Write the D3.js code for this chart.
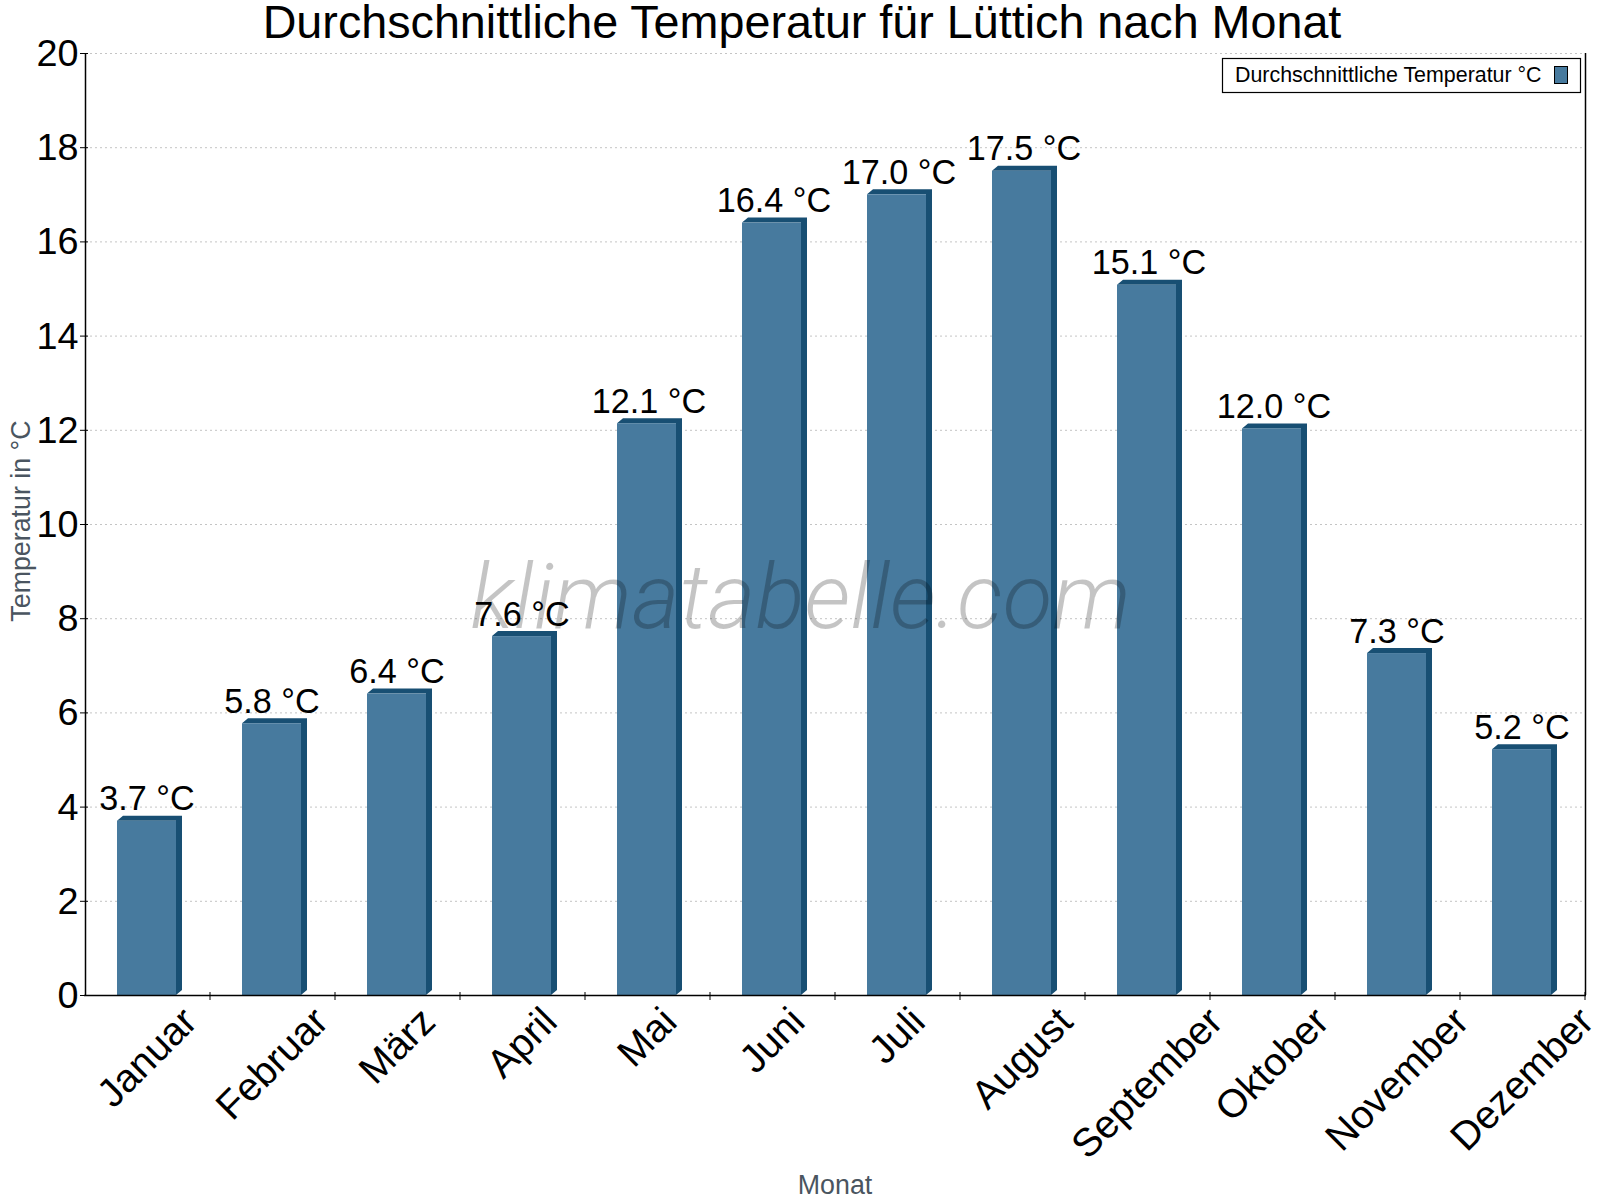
<!DOCTYPE html>
<html>
<head>
<meta charset="utf-8">
<script src="https://cdnjs.cloudflare.com/ajax/libs/d3/7.8.5/d3.min.js"></script>
<style>
    body { margin: 0; background: #fff; }
    text { font-family: "Liberation Sans", Arial, sans-serif; }
</style>
</head>
<body>
<div id="chart"></div>
<script>
var months = ["Januar", "Februar", "März", "April", "Mai", "Juni", "Juli", "August", "September", "Oktober", "November", "Dezember"];
var temps = [3.7, 5.77, 6.4, 7.62, 12.14, 16.4, 17.0, 17.5, 15.08, 12.03, 7.26, 5.22];
var yTicks = [0, 2, 4, 6, 8, 10, 12, 14, 16, 18, 20];

var titleText = "Durchschnittliche Temperatur für Lüttich nach Monat";
var legendText = "Durchschnittliche Temperatur °C";

var left = 85, right = 1585, top_ = 53, bottom = 995;
var depth = 6;

var svg = d3.select("#chart").append("svg")
    .attr("width", 1600)
    .attr("height", 1200);

var x = d3.scaleBand().domain(months).range([left, right]);
var y = d3.scaleLinear().domain([0, 20]).range([bottom, top_]);
var barW = 59;

// grid
svg.selectAll("line.grid")
    .data(yTicks.slice(1))
    .enter()
    .append("line")
    .attr("class", "grid")
    .attr("x1", left)
    .attr("x2", right)
    .attr("y1", function (d) { return y(d) + 0.5; })
    .attr("y2", function (d) { return y(d) + 0.5; })
    .attr("stroke", "#c4c4c4")
    .attr("stroke-dasharray", "2,3");

// bars
var bars = svg.selectAll("g.bar")
    .data(temps)
    .enter()
    .append("g")
    .attr("class", "bar");

bars.append("polygon")
    .attr("fill", "#184f73")
    .attr("points", function (d, i) {
        var x0 = x(months[i]) + 32, x1 = x0 + barW, y0 = y(d);
        return [[x0, y0], [x0 + depth, y0 - depth + 1], [x1 + depth, y0 - depth + 1], [x1 + depth, bottom - depth + 1], [x1, bottom], [x1, y0]].join(" ");
    });

bars.append("rect")
    .attr("fill", "#477a9e")
    .attr("x", function (d, i) { return x(months[i]) + 32; })
    .attr("y", function (d) { return y(d); })
    .attr("width", barW)
    .attr("height", function (d) { return bottom - y(d); });

bars.append("text")
    .attr("x", function (d, i) { return x(months[i]) + (d >= 10 ? 64 : 62); })
    .attr("y", function (d) { return y(d) - 10.5; })
    .attr("text-anchor", "middle")
    .attr("font-size", 34.2)
    .attr("fill", "#000")
    .text(function (d) { return d.toFixed(1) + " °C"; });

// watermark
svg.append("text")
    .attr("x", 800.5)
    .attr("y", 628)
    .attr("text-anchor", "middle")
    .attr("font-size", 91.3)
    .attr("font-style", "italic")
    .attr("font-weight", 300)
    .style("font-family", "Roboto")
    .attr("fill", "#000")
    .attr("fill-opacity", 0.23)
    .text("klimatabelle.com");

// axes
var xAxis = svg.append("g");
xAxis.append("line").attr("x1", left - 1).attr("x2", right + 1).attr("y1", bottom + 0.5).attr("y2", bottom + 0.5).attr("stroke", "#000").attr("stroke-width", 1.5);
xAxis.selectAll("line.tick")
    .data(months)
    .enter()
    .append("line")
    .attr("class", "tick")
    .attr("x1", function (d) { return x(d) + x.bandwidth(); })
    .attr("x2", function (d) { return x(d) + x.bandwidth(); })
    .attr("y1", bottom - 3)
    .attr("y2", bottom + 5)
    .attr("stroke", "#000");

// rotated labels hang from the same top edge, centred on the band
xAxis.selectAll("text")
    .data(months)
    .enter()
    .append("text")
    .attr("text-anchor", "middle")
    .attr("dy", "0.35em")
    .attr("font-size", 39.6)
    .text(function (d) { return d; })
    .attr("transform", function (d) {
        var w = this.getComputedTextLength();
        var cy = 1003.5 + (w + 30) * Math.SQRT1_2 / 2;
        return "translate(" + (x(d) + x.bandwidth() / 2 - 1) + "," + cy + ") rotate(-45)";
    });

var yAxis = svg.append("g");
yAxis.append("line").attr("x1", left + 0.5).attr("x2", left + 0.5).attr("y1", top_).attr("y2", bottom).attr("stroke", "#000").attr("stroke-width", 1.5);
yAxis.append("line").attr("x1", right + 0.5).attr("x2", right + 0.5).attr("y1", top_).attr("y2", bottom).attr("stroke", "#000").attr("stroke-width", 1.5);
yAxis.selectAll("line.tick")
    .data(yTicks)
    .enter()
    .append("line")
    .attr("class", "tick")
    .attr("x1", left - 5)
    .attr("x2", left + 3)
    .attr("y1", function (d) { return y(d) + 0.5; })
    .attr("y2", function (d) { return y(d) + 0.5; })
    .attr("stroke", "#000");
yAxis.selectAll("text")
    .data(yTicks)
    .enter()
    .append("text")
    .attr("x", left - 6.5)
    .attr("y", function (d) { return y(d) + 13; })
    .attr("text-anchor", "end")
    .attr("font-size", 37.8)
    .text(function (d) { return d; });

// titles
svg.append("text")
    .attr("x", 802)
    .attr("y", 38)
    .attr("text-anchor", "middle")
    .attr("font-size", 46.7)
    .text(titleText);

svg.append("text")
    .attr("x", 835)
    .attr("y", 1194)
    .attr("text-anchor", "middle")
    .attr("font-size", 26.8)
    .attr("fill", "#4a5560")
    .text("Monat");

svg.append("text")
    .attr("transform", "translate(30,521) rotate(-90)")
    .attr("text-anchor", "middle")
    .attr("font-size", 26.8)
    .attr("fill", "#4a5560")
    .text("Temperatur in °C");

// legend
var legend = svg.append("g");
legend.append("rect")
    .attr("x", 1222.5).attr("y", 58.5).attr("width", 358).attr("height", 34)
    .attr("fill", "#fff").attr("stroke", "#000").attr("stroke-width", 1.2);
legend.append("text")
    .attr("x", 1235).attr("y", 82)
    .attr("font-size", 21.4)
    .text(legendText);
legend.append("rect")
    .attr("x", 1554.5).attr("y", 66.5).attr("width", 13).attr("height", 17)
    .attr("fill", "#477a9e").attr("stroke", "#000");
</script>
</body>
</html>
